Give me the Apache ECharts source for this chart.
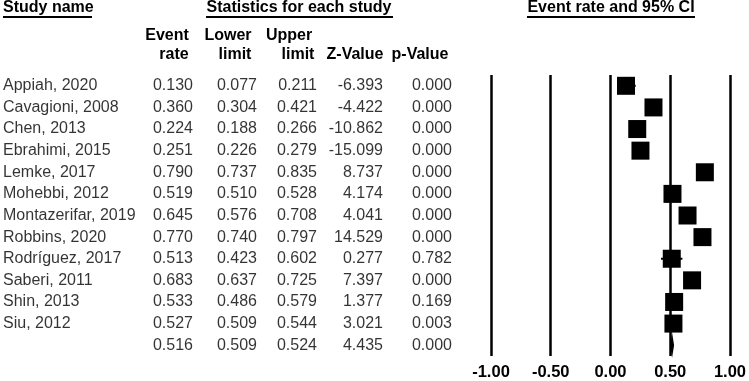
<!DOCTYPE html>
<html>
<head>
<meta charset="utf-8">
<script src="https://cdn.jsdelivr.net/npm/echarts@6/dist/echarts.min.js"></script>
<style>
  html, body { margin: 0; padding: 0; background: #fff; }
  #chart { width: 749px; height: 381px; }
</style>
</head>
<body>
<div id="chart"></div>
<script>
const studies = ["Appiah, 2020", "Cavagioni, 2008", "Chen, 2013", "Ebrahimi, 2015", "Lemke, 2017", "Mohebbi, 2012",
  "Montazerifar, 2019", "Robbins, 2020", "Rodríguez, 2017", "Saberi, 2011", "Shin, 2013", "Siu, 2012"];
const eventRate = [0.130, 0.360, 0.224, 0.251, 0.790, 0.519, 0.645, 0.770, 0.513, 0.683, 0.533, 0.527];
const lowerLimit = [0.077, 0.304, 0.188, 0.226, 0.737, 0.510, 0.576, 0.740, 0.423, 0.637, 0.486, 0.509];
const upperLimit = [0.211, 0.421, 0.266, 0.279, 0.835, 0.528, 0.708, 0.797, 0.602, 0.725, 0.579, 0.544];
const zValue = [-6.393, -4.422, -10.862, -15.099, 8.737, 4.174, 4.041, 14.529, 0.277, 7.397, 1.377, 3.021];
const pValue = [0.000, 0.000, 0.000, 0.000, 0.000, 0.000, 0.000, 0.000, 0.782, 0.000, 0.169, 0.003];
// pooled estimate (last row)
const pooled = { rate: 0.516, lower: 0.509, upper: 0.524, z: 4.435, p: 0.000 };
const xTicks = [-1, -0.5, 0, 0.5, 1];

const FONT = 'Arial, "Liberation Sans", sans-serif';
const INK = "#000";
const nRows = studies.length + 1;
const rowIdx = Array.from({ length: nRows }, (_, i) => i);

// table columns: x anchor in table-grid units, label side, cell texts
const f3 = (v) => v.toFixed(3);
const columns = [
  { x: 3, pos: "right", cells: studies.concat([""]) },
  { x: 193, pos: "left", cells: eventRate.concat([pooled.rate]).map(f3) },
  { x: 257, pos: "left", cells: lowerLimit.concat([pooled.lower]).map(f3) },
  { x: 317, pos: "left", cells: upperLimit.concat([pooled.upper]).map(f3) },
  { x: 383, pos: "left", cells: zValue.concat([pooled.z]).map(f3) },
  { x: 452, pos: "left", cells: pValue.concat([pooled.p]).map(f3) },
];

const tableSeries = columns.map((col) => ({
  type: "scatter",
  xAxisIndex: 1,
  yAxisIndex: 1,
  symbolSize: 0,
  silent: true,
  data: col.cells.map((t, i) => [col.x, i, t]),
  label: {
    show: true,
    position: col.pos,
    distance: 0,
    formatter: (p) => p.value[2],
    color: INK,
    fontFamily: FONT,
    fontSize: 16,
  },
}));

const headText = (txt, x, y, align) => ({
  type: "text",
  x: x,
  y: y,
  style: {
    text: txt,
    fill: INK,
    font: "bold 16px " + FONT,
    textAlign: align || "center",
    textVerticalAlign: "middle",
  },
});
const underline = (x1, x2) => ({
  type: "line",
  shape: { x1: x1, y1: 17, x2: x2, y2: 17 },
  style: { stroke: INK, lineWidth: 2 },
});

const option = {
  animation: false,
  grid: [
    { left: 491, right: 16, top: 75, height: 281 }, // forest plot
    { left: 0, width: 470, top: 75, height: 281 }, // table
  ],
  xAxis: [
    {
      type: "value",
      gridIndex: 0,
      min: xTicks[0],
      max: xTicks[xTicks.length - 1],
      interval: 0.5,
      axisLine: { show: false },
      axisTick: { show: false },
      axisLabel: {
        color: INK,
        fontFamily: FONT,
        fontWeight: "bold",
        fontSize: 16.5,
        margin: 8,
        formatter: (v) => v.toFixed(2),
      },
      splitLine: {
        show: true,
        showMinLine: true,
        showMaxLine: true,
        lineStyle: { color: "#000", width: 2.5 },
      },
    },
    { type: "value", gridIndex: 1, min: 0, max: 470, show: false },
  ],
  yAxis: [
    { type: "category", gridIndex: 0, data: rowIdx, inverse: true, show: false },
    { type: "category", gridIndex: 1, data: rowIdx, inverse: true, show: false },
  ],
  graphic: [
    headText("Study name", 3, 8, "left"),
    underline(3, 92),
    headText("Statistics for each study", 299, 8),
    underline(206, 393),
    headText("Event rate and 95% CI", 611, 8),
    underline(527, 695),
    headText("Event", 167, 36),
    headText("rate", 174, 55),
    headText("Lower", 228, 36),
    headText("limit", 235, 55),
    headText("Upper", 289, 36),
    headText("limit", 298, 55),
    headText("Z-Value", 355, 55),
    headText("p-Value", 420, 55),
  ],
  series: [
    {
      // confidence intervals
      type: "custom",
      silent: true,
      data: studies.map((s, i) => [lowerLimit[i], upperLimit[i], i]),
      encode: { x: [0, 1], y: 2 },
      renderItem: (params, api) => {
        const a = api.coord([api.value(0), api.value(2)]);
        const b = api.coord([api.value(1), api.value(2)]);
        return {
          type: "line",
          shape: { x1: a[0], y1: a[1], x2: b[0], y2: b[1] },
          style: { stroke: "#000", lineWidth: 2 },
        };
      },
    },
    {
      type: "scatter",
      silent: true,
      symbol: "rect",
      symbolSize: 18,
      itemStyle: { color: "#000", opacity: 1 },
      data: eventRate.map((v, i) => [v, i]),
    },
    {
      // pooled diamond
      type: "custom",
      silent: true,
      data: [[pooled.lower, pooled.rate, pooled.upper, nRows - 1]],
      encode: { x: [0, 2], y: 3 },
      renderItem: (params, api) => {
        const row = api.value(3);
        const l = api.coord([api.value(0), row]);
        const m = api.coord([api.value(1), row]);
        const r = api.coord([api.value(2), row]);
        const h = 6;
        return {
          type: "polygon",
          shape: { points: [[l[0], l[1]], [m[0], m[1] - h], [r[0], r[1]], [m[0], m[1] + h]] },
          style: { fill: "#000", stroke: "#000", lineWidth: 2 },
        };
      },
    },
  ].concat(tableSeries),
};

const chart = echarts.init(document.getElementById("chart"));
chart.setOption(option);
</script>
</body>
</html>
